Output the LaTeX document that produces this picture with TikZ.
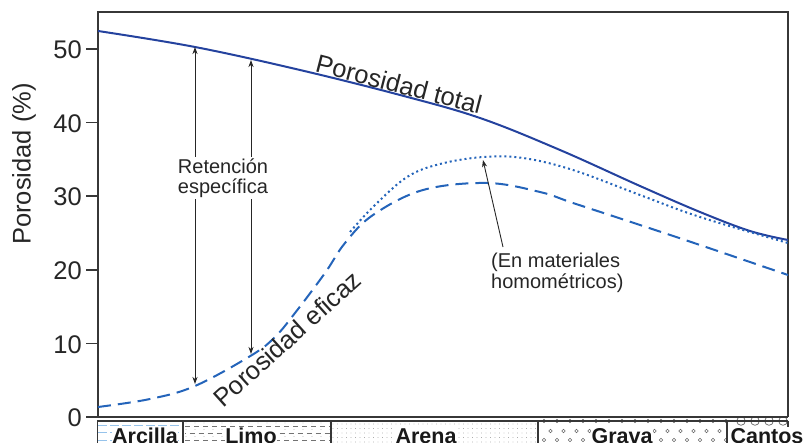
\documentclass[tikz,border=0pt]{standalone}
\usepackage{fontspec}
\setmainfont{Liberation Sans}
\usetikzlibrary{arrows.meta}
\definecolor{totalblue}{RGB}{36,66,158}
\definecolor{efblue}{RGB}{36,100,186}
\definecolor{clayblue}{RGB}{150,195,235}
\definecolor{framegray}{RGB}{55,55,55}
\begin{document}
\begin{tikzpicture}[x=1pt, y=-1pt,
   frame/.style={draw=framegray, line width=1.5pt},
   total/.style={totalblue, line width=2pt},
   eficaz/.style={efblue, line width=2pt, dash pattern=on 13pt off 7pt},
   homo/.style={efblue, line width=2pt, dash pattern=on 2pt off 3pt},
   retarrow/.style={black!85, line width=0.9pt, {Stealth[length=7pt,width=5pt,inset=2pt]}-{Stealth[length=7pt,width=5pt,inset=2pt]}},
   homarrow/.style={black!85, line width=0.9pt, -{Stealth[length=7pt,width=5pt,inset=2pt]}},
   lbl/.style={text=black!85, font=\fontsize{20}{20.5}\selectfont},
   biglbl/.style={text=black!85, font=\fontsize{25.5}{30}\selectfont},
   soil/.style={text=black!90, fill=white, inner sep=0.5pt, anchor=base, font=\bfseries\fontsize{21.5}{24}\selectfont}]
\useasboundingbox (0,0) rectangle (805,443);

\coordinate (t1) at (195,47);
\coordinate (e1) at (195,384);
\coordinate (t2) at (251,60);
\coordinate (e2) at (251,354);
\coordinate (h0) at (503,247);
\coordinate (h1) at (483,160);

% soil bar
\begin{scope}
  \clip (98,421) rectangle (183,446);
  \foreach \y in {425,432,440}
     \draw[clayblue, line width=0.9pt, dash pattern=on 9pt off 3pt] (98,\y) -- (183,\y);
\end{scope}
\begin{scope}
  \clip (183,421) rectangle (331,446);
  \foreach \y in {426,440}
     \draw[black!55, line width=0.8pt, dash pattern=on 5pt off 4pt] (185,\y) -- (331,\y);
  \draw[black!55, line width=0.8pt, dash pattern=on 5pt off 4pt, dash phase=4.5pt] (185,433) -- (331,433);
  \foreach \x in {186,195,...,330}
     \foreach \y in {423,429.5,436.5}
        \fill[black!45] (\x,\y) circle (0.45);
\end{scope}
\begin{scope}
  \clip (331,421) rectangle (538,446);
  \foreach \x in {333,337.5,...,537}
     \foreach \y in {424,428.5,...,446}
        \fill[black!50] (\x,\y) circle (0.45);
\end{scope}
\begin{scope}
  \clip (538,416) rectangle (727,446);
  \foreach \x in {544,557,...,727}{
     \draw[black!60, line width=0.6pt] (\x,421) circle (1.8);
     \draw[black!60, line width=0.6pt] (\x+6.5,431) circle (1.8);
     \draw[black!60, line width=0.6pt] (\x,440) circle (1.8);
  }
\end{scope}
\begin{scope}
  \clip (727,414) rectangle (788,446);
  \foreach \x in {741,755,769,783}
     \draw[black!60, line width=0.7pt] (\x,421) circle (4.3);
  \foreach \x in {748,762,776}
     \draw[black!60, line width=0.7pt] (\x,432) circle (4.3);
\end{scope}
\draw[frame, line width=1.2pt] (97,421) -- (788,421);
\foreach \x in {97.6,183,331,538,727,788}
   \draw[frame, line width=1.2pt] (\x,421) -- (\x,446);

\node[soil] (arcilla) at (145,443) {Arcilla};
\node[soil] (limo) at (251,443) {Limo};
\node[soil] (arena) at (426,443) {Arena};
\node[soil] (grava) at (622,443) {Grava};
\node[soil] (cantos) at (767,443) {Cantos};

% frame and axis
\draw[frame] (98,417) -- (98,12) -- (788,12) -- (788,417);
\draw[frame] (86,417) -- (788,417);
\foreach \v in {10,20,...,50}
   \draw[frame] (86,{417-7.36*\v}) -- (98,{417-7.36*\v});
\foreach \v in {0,10,...,50}
   \node[biglbl, anchor=east, inner sep=0pt] (tick\v) at (82,{418-7.36*\v}) {\v};
\node[biglbl, rotate=90] (ylab) at (24,164) {Porosidad (\%)};

% curves
\draw[total] plot[smooth, tension=0.6] coordinates {(98,31) (195,47) (300,70) (400,95) (480,118) (560,150) (640,186) (700,212) (750,231) (788,240)};
\draw[eficaz] plot[smooth, tension=0.6] coordinates {(98,407) (150,399) (195,386) (252,355) (275,337) (295,313) (325,273) (345,243) (373,215) (423,190) (487,183) (540,192) (573,203) (640,225) (700,245) (788,275)};
\draw[homo] plot[smooth, tension=0.6] coordinates {(350,232) (373,207) (407,177) (440,164) (483,157) (523,158) (573,170) (640,195) (700,217) (788,243)};

% labels and arrows
\draw[retarrow] (t1) -- (e1);
\draw[retarrow] (t2) -- (e2);
\node[lbl, fill=white, align=center, inner sep=1pt] (ret) at (223,178) {Retención\\específica};
\draw[homarrow] (h0) -- (h1);
\node[lbl, align=left, anchor=west, inner sep=0pt] (hom) at (491,273) {(En materiales\\homométricos)};
\node[biglbl, rotate=-14.5] (ptotal) at (399,84) {Porosidad total};
\node[biglbl, rotate=42] (peficaz) at (287,339) {Porosidad eficaz};
\end{tikzpicture}
\end{document}
